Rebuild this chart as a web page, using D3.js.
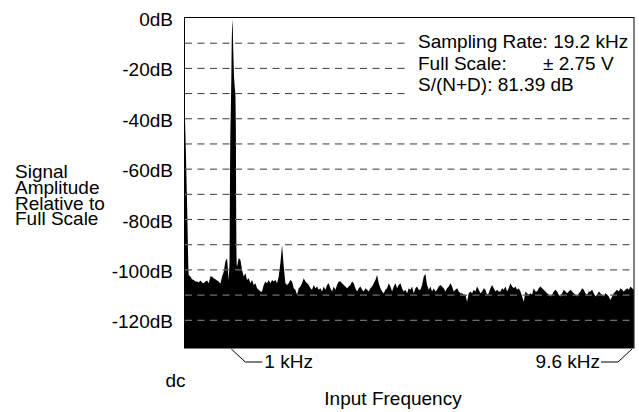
<!DOCTYPE html>
<html lang="en">
<head>
<meta charset="UTF-8">
<title>FFT plot</title>
<script src="https://cdnjs.cloudflare.com/ajax/libs/d3/7.8.5/d3.min.js"></script>
<style>
    body{ margin:0; background:#fff; }
    svg text{ font-family:"Liberation Sans", Arial, sans-serif; font-size:19px; fill:#000; }
    .grid line{ stroke-dasharray:7,5.5; }
    .grid path{ display:none; }
</style>
</head>
<body>
<svg id="main" width="639" height="412"></svg>
<script>
// level labels on the left
const labelDb = [0, -20, -40, -60, -80, -100, -120];
const labelText = ["0dB", "-20dB", "-40dB", "-60dB", "-80dB", "-100dB", "-120dB"];
const gridDb = [-10, -20, -30, -40, -50, -60, -70, -80, -90, -100, -110, -120];

// dc leakage at the left edge
const dcHz = [0, 12, 25, 40, 55, 70, 82];
const dcDb = [-40, -41, -50, -62, -74, -88, -99];

// the 1 kHz test tone
const toneHz = [952, 962, 972, 979, 990, 1000, 1009, 1021, 1031, 1040, 1058, 1088, 1097, 1103, 1109, 1115];
const toneDb = [-101, -97, -62, -46, -36, -24, -9, -0.7, -4, -12, -24, -31, -44, -76, -93, -98];

// noise floor, one reading per bin (null = covered by the tone)
const floorStartHz = 90;
const floorStepHz = 35.6;
const floorDb = [
    -102.2,-102.8,-103.9,-104.2,-104.8,-104.8,-105.2,-104.4,-105.2,-105.5,
    -104.8,-104.4,-105.5,-102.8,-102.8,-103.5,-103.9,-104.4,-104.8,-105.7,
    -102.8,-100.9,-96.9,-95.6,-104.2,null,null,null,null,-98.8,
    -95.6,-96.2,-100.2,-102.8,-101.5,-104.2,-103.5,-105.5,-104.2,-106.2,
    -105.5,-107.5,-108.1,-108.8,
    -108.8,-106.2,-104.8,-105.5,-104.2,-105.5,-104.2,-104.8,-104.2,-105.5,
    -102.8,-97.5,-90.3,-98.8,-105.5,-106.2,-105.5,-104.2,-104.8,-107.5,
    -108.1,-110.1,-107.5,-106.8,-105.5,-103.5,-104.8,-105.5,-106.2,-107.5,
    -108.1,-106.2,-107.5,-106.8,-108.1,-107.5,-108.8,-106.8,-108.1,-106.2,
    -105.5,-107.5,-108.8,-106.8,-108.1,-106.2,-104.8,
    -104.8,-105.5,-106.2,-106.8,-107.5,-106.8,-106.2,-104.8,-105.5,-107.5,
    -108.8,-107.5,-106.8,-108.1,-108.8,-107.5,-108.1,-108.8,-107.5,-106.8,
    -105.5,-104.2,-102.2,-105.5,-107.5,-108.8,-109.5,-108.1,-107.5,-105.5,
    -106.8,-108.8,-106.8,-105.5,-107.5,-106.2,-105.5,-107.5,-108.8,-108.1,
    -109.5,-107.5,-108.1,-106.8,-109.5,-107.5,-106.8,-108.1,
    -108.1,-106.2,-102.8,-101.8,-106.2,-108.1,-106.8,-108.8,-107.5,-108.8,
    -108.1,-106.8,-106.2,-106.8,-107.5,-108.8,-107.5,-106.8,-105.5,-106.8,
    -108.8,-108.1,-107.5,-108.8,-109.5,-109.5,-110.1,-110.1,-112.8,-109.5,
    -108.8,-109.5,-108.1,-108.8,-106.8,-108.1,-109.5,-108.8,-107.5,-108.1,
    -110.1,-109.5,-107.5,-106.2,-107.5,-108.8,-108.1,-108.8,
    -108.8,-107.5,-108.1,-106.8,-108.8,-107.5,-105.5,-106.8,-107.5,-106.8,
    -108.1,-107.5,-108.8,-110.8,-112.8,-108.8,-109.5,-110.1,-109.5,-110.1,
    -107.5,-108.8,-108.8,-107.5,-106.8,-107.5,-108.1,-108.8,-109.5,-110.1,
    -110.8,-110.1,-108.8,-108.1,-108.8,-110.1,-110.8,-109.5,-108.1,-108.8,
    -109.5,
    -108.8,-108.1,-108.8,-109.5,-110.1,-110.8,-109.5,-108.8,-107.5,-108.1,
    -109.5,-110.1,-108.8,-108.8,-108.1,-109.5,-110.8,-110.1,-108.8,-109.5,
    -110.1,-110.8,-109.5,-110.1,-110.8,-112.1,-110.8,-109.5,-108.8,-108.1,
    -108.8,-107.5,-108.1,-108.8,-108.1,-107.5,-108.1,-106.8,-107.5,-108.1
];

const infoLines = ["Sampling Rate: 19.2 kHz", "Full Scale:", "S/(N+D): 81.39 dB"];
const fullScaleValue = "\u00b1 2.75 V";
const yTitle = ["Signal", "Amplitude", "Relative to", "Full Scale"];

const svg = d3.select("#main");
const plot = {left: 184.5, right: 634, top: 17.5, bottom: 348};

const x = d3.scaleLinear().domain([0, 9600]).range([plot.left, plot.right]);
const y = d3.scaleLinear().domain([0, -131.2]).range([plot.top, plot.bottom]);

// build the spectrum points
let spectrum = [];
dcHz.forEach((f, i) => spectrum.push({f: f, db: dcDb[i]}));
floorDb.forEach((v, i) => {
    if (v !== null) spectrum.push({f: floorStartHz + i * floorStepHz, db: v});
});
toneHz.forEach((f, i) => spectrum.push({f: f, db: toneDb[i]}));
spectrum.sort((a, b) => a.f - b.f);

const area = d3.area()
    .x(d => x(d.f))
    .y0(plot.bottom)
    .y1(d => y(d.db));

svg.append("defs").append("clipPath")
    .attr("id", "specClip")
    .append("path")
    .attr("d", area(spectrum));

const gridAxis = d3.axisRight(y)
    .tickValues(gridDb)
    .tickSize(plot.right - plot.left - 1)
    .tickFormat("");

// dark dashes on white
svg.append("g")
    .attr("class", "grid")
    .attr("transform", `translate(${plot.left + 0.5},0)`)
    .call(gridAxis)
    .selectAll("line").attr("stroke", "#3a3a3a");

svg.append("path")
    .attr("d", area(spectrum))
    .attr("fill", "#000");

// light dashes where they cross the black fill
svg.append("g")
    .attr("clip-path", "url(#specClip)")
    .append("g")
    .attr("class", "grid")
    .attr("transform", `translate(${plot.left + 0.5},0)`)
    .call(gridAxis)
    .selectAll("line").attr("stroke", "#8c8c8c");

// info box
svg.append("rect")
    .attr("x", 410).attr("y", 30)
    .attr("width", plot.right - 410 - 1).attr("height", 67)
    .attr("fill", "#fff");

svg.selectAll(".info")
    .data(infoLines)
    .enter()
    .append("text")
    .attr("class", "info")
    .attr("x", 418)
    .attr("y", (d, i) => 48 + i * 21.7)
    .text(d => d);
svg.append("text")
    .attr("x", 543)
    .attr("y", 48 + 21.7)
    .text(fullScaleValue);

// frame
svg.append("rect")
    .attr("x", plot.left).attr("y", plot.top)
    .attr("width", plot.right - plot.left).attr("height", plot.bottom - plot.top)
    .attr("fill", "none")
    .attr("stroke", "#000")
    .attr("stroke-width", 1);

// level labels
const yAxis = svg.append("g")
    .attr("transform", `translate(${plot.left},2)`)
    .call(d3.axisLeft(y).tickValues(labelDb).tickSize(0).tickPadding(11.5)
        .tickFormat((d, i) => labelText[i]));
yAxis.select(".domain").remove();
yAxis.attr("font-size", null).attr("font-family", null);

// frequency markers
const kHz1 = x(1000), kHz96 = x(9600);
svg.append("path")
    .attr("d", `M${kHz1},${plot.bottom + 1}L${kHz1 + 14},362L${kHz1 + 31},362`)
    .attr("fill", "none").attr("stroke", "#000");
svg.append("text").attr("x", kHz1 + 33).attr("y", 368).text("1 kHz");

svg.append("path")
    .attr("d", `M${kHz96 - 2},${plot.bottom + 1}L${kHz96 - 16},362L${kHz96 - 33},362`)
    .attr("fill", "none").attr("stroke", "#000");
svg.append("text").attr("x", kHz96 - 34).attr("y", 368).attr("text-anchor", "end").text("9.6 kHz");

svg.append("text").attr("x", x(0) + 1).attr("y", 387).attr("text-anchor", "end").text("dc");
svg.append("text").attr("x", 393).attr("y", 405).attr("text-anchor", "middle").text("Input Frequency");

// y title, one text block with a line per tspan
svg.append("text")
    .attr("class", "ytitle")
    .attr("y", 178)
    .selectAll("tspan")
    .data(yTitle)
    .enter()
    .append("tspan")
    .attr("x", 15)
    .attr("dy", (d, i) => i === 0 ? 0 : 15.8)
    .text(d => d);
</script>
</body>
</html>
